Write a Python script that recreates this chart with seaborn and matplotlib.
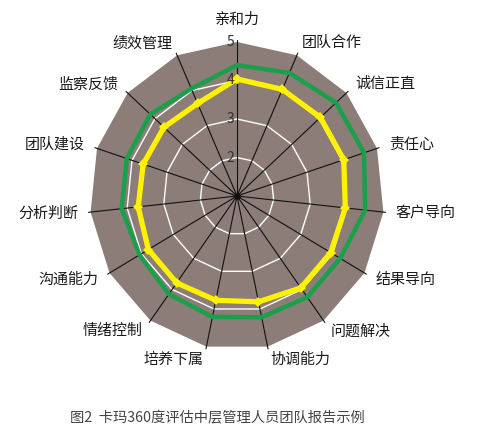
import numpy as np
import pandas as pd
import matplotlib
matplotlib.use("Agg")
import matplotlib.pyplot as plt
import seaborn as sns

# ──────────────────────────────────────────────────────────────
# Data (read off the reference radar)
# ──────────────────────────────────────────────────────────────
labels = ["亲和力", "团队合作", "诚信正直", "责任心", "客户导向", "结果导向",
          "问题解决", "协调能力", "培养下属", "情绪控制", "沟通能力", "分析判断",
          "团队建设", "监察反馈", "绩效管理"]
green_scores = [4.40, 4.50, 4.62, 4.63, 4.50, 4.24, 4.25, 4.22,
                4.21, 4.15, 4.06, 4.15, 4.15, 4.17, 4.05]
yellow_scores = [4.04, 4.03, 4.05, 4.05, 3.96, 3.94, 3.95, 3.81,
                 3.77, 3.79, 3.78, 3.70, 3.68, 3.67, 3.63]
ring_levels = [2, 3, 4]
tick_levels = [2, 3, 4, 5]
title = "图2  卡玛360度评估中层管理人员团队报告示例"
r_min, r_max = 1, 5

# ──────────────────────────────────────────────────────────────
# Style
# ──────────────────────────────────────────────────────────────
sns.set_theme(style="white")
plt.rcParams["font.family"] = ["Noto Sans CJK SC", "DejaVu Sans"]

BROWN = "#8c7d78"
GREEN = "#1a9f4b"
YELLOW = "#fff200"

n = len(labels)
theta = np.arange(n) * 2 * np.pi / n   # clockwise from the top


def to_xy(values):
    r = np.asarray(values, dtype=float) - r_min
    return r * np.sin(theta), r * np.cos(theta)


def closed(values):
    x, y = to_xy(values)
    return pd.DataFrame({"x": np.append(x, x[0]), "y": np.append(y, y[0])})


fig = plt.figure(figsize=(4.78, 4.41), dpi=100)
ax = fig.add_axes([0, 0, 1, 1])
# source image is slightly narrower than tall -> keep that squish
px_x, px_y = 36.8, 38.5
ax.set_xlim(-237 / px_x, (478 - 237) / px_x)
ax.set_ylim(-(441 - 196) / px_y, 196 / px_y)
ax.axis("off")

# background polygon
bg = closed([r_max] * n)
ax.fill(bg["x"], bg["y"], color=BROWN, zorder=1, lw=0)

# white rings
for lv in ring_levels:
    ring = closed([lv] * n)
    ax.plot(ring["x"], ring["y"], color="white", lw=1.0, zorder=2)

# spokes
sx, sy = to_xy([r_max + 0.06] * n)
for x, y in zip(sx, sy):
    ax.plot([0, x], [0, y], color="#111111", lw=0.8, zorder=3)
ax.scatter([0], [0], s=14, color="#111111", zorder=3)

# series
sns.lineplot(data=closed(green_scores), x="x", y="y", sort=False, estimator=None,
             color=GREEN, lw=3.2, ax=ax, zorder=4)
sns.lineplot(data=closed(yellow_scores), x="x", y="y", sort=False, estimator=None,
             color=YELLOW, lw=3.8, marker="D", markersize=5,
             markeredgewidth=0, ax=ax, zorder=5)
ax.set_xlabel("")
ax.set_ylabel("")

# axis labels
lx, ly = to_xy([r_max + 0.34] * n)
for i, lab in enumerate(labels):
    s = np.sin(theta[i])
    if abs(s) < 0.01:
        ax.text(0, r_max + 0.57 - r_min, lab, ha="center", va="center",
                fontsize=10.8, color="#1a1a1a")
        continue
    ha = "left" if s > 0 else "right"
    ax.text(lx[i], ly[i], lab, ha=ha, va="center", fontsize=10.8, color="#1a1a1a")

# radial tick labels beside the top spoke
for lv in tick_levels:
    ax.text(-3 / px_x, lv - r_min, str(lv), ha="right", va="center",
            fontsize=10, color="#333333", zorder=6)

fig.text(217.5 / 478, 1 - 418 / 441, title, ha="center", va="center",
         fontsize=10.3, color="#444444")

fig.savefig("out.png", dpi=100)
